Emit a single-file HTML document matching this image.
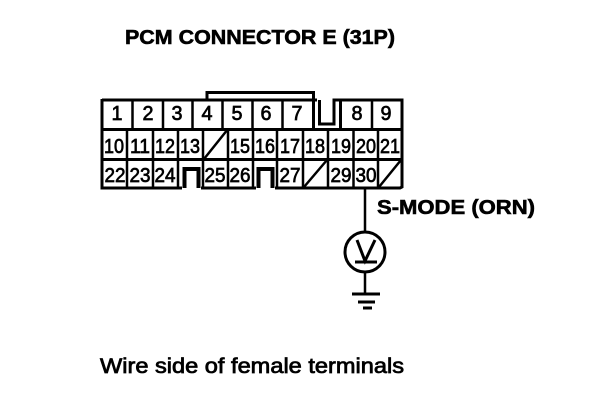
<!DOCTYPE html>
<html><head><meta charset="utf-8"><style>
html,body{margin:0;padding:0;background:#fff}
svg{display:block}
text{font-family:"Liberation Sans",sans-serif;fill:#000}
.n{font-size:20px;text-anchor:middle;stroke:#000;stroke-width:.7}
.b{font-weight:bold;font-size:20px;stroke:#000;stroke-width:.6}
</style></head><body>
<svg width="608" height="408" viewBox="0 0 608 408" xmlns="http://www.w3.org/2000/svg">
<text class="b" x="125" y="44" textLength="270" lengthAdjust="spacingAndGlyphs">PCM CONNECTOR E (31P)</text>
<text class="b" x="377" y="214" textLength="158" lengthAdjust="spacingAndGlyphs">S-MODE (ORN)</text>
<text x="100" y="373" font-size="21" stroke="#000" stroke-width=".75" textLength="304" lengthAdjust="spacingAndGlyphs">Wire side of female terminals</text>
<g fill="none" stroke="#000" stroke-width="3">
<path d="M207 100V92.500H313.500V129"/>
<path d="M102 100H317M102 99V188H182M201 188H256M275 188H400L402 187V100H334V124H319.500V100" stroke-linejoin="miter"/>
<path d="M340.500 100V129M101 129.500H402M101 159.500H401"/>
<path d="M184.500 188V169H198.500V188M258.500 188V169H272.500V188" stroke-width="4"/>
</g>
<g fill="none" stroke="#000" stroke-width="2.500">
<path d="M132.500 100V129M163 100V129M192.500 100V129M222.500 100V129M252.500 100V129M282.500 100V129M372 100V129"/>
<path d="M127 129V188M153 129V188M178 129V188M203 129V188M228 129V188M253 129V188M277 129V188M303 129V188M328 129V188M353.500 129V188M378 129V188"/>
<path d="M204 159L228 129M304 187L327 160M379 187L401 160"/>
</g>
<g>
<text class="n" x="117" y="120" textLength="11" lengthAdjust="spacingAndGlyphs">1</text><text class="n" x="148" y="120" textLength="11" lengthAdjust="spacingAndGlyphs">2</text><text class="n" x="177" y="120" textLength="11" lengthAdjust="spacingAndGlyphs">3</text><text class="n" x="207" y="120" textLength="11" lengthAdjust="spacingAndGlyphs">4</text><text class="n" x="237" y="120" textLength="11" lengthAdjust="spacingAndGlyphs">5</text><text class="n" x="266" y="120" textLength="11" lengthAdjust="spacingAndGlyphs">6</text><text class="n" x="297" y="120" textLength="11" lengthAdjust="spacingAndGlyphs">7</text><text class="n" x="357" y="120" textLength="11" lengthAdjust="spacingAndGlyphs">8</text><text class="n" x="386" y="120" textLength="11" lengthAdjust="spacingAndGlyphs">9</text>
<text class="n" x="114" y="153" textLength="20" lengthAdjust="spacingAndGlyphs">10</text><text class="n" x="140" y="153" textLength="20" lengthAdjust="spacingAndGlyphs">11</text><text class="n" x="165" y="153" textLength="20" lengthAdjust="spacingAndGlyphs">12</text><text class="n" x="190" y="153" textLength="20" lengthAdjust="spacingAndGlyphs">13</text><text class="n" x="240" y="153" textLength="20" lengthAdjust="spacingAndGlyphs">15</text><text class="n" x="265" y="153" textLength="20" lengthAdjust="spacingAndGlyphs">16</text><text class="n" x="290" y="153" textLength="20" lengthAdjust="spacingAndGlyphs">17</text><text class="n" x="315" y="153" textLength="20" lengthAdjust="spacingAndGlyphs">18</text><text class="n" x="341" y="153" textLength="20" lengthAdjust="spacingAndGlyphs">19</text><text class="n" x="366" y="153" textLength="20" lengthAdjust="spacingAndGlyphs">20</text><text class="n" x="390" y="153" textLength="20" lengthAdjust="spacingAndGlyphs">21</text>
<text class="n" x="115" y="182" textLength="21" lengthAdjust="spacingAndGlyphs">22</text><text class="n" x="140" y="182" textLength="21" lengthAdjust="spacingAndGlyphs">23</text><text class="n" x="165" y="182" textLength="21" lengthAdjust="spacingAndGlyphs">24</text><text class="n" x="215" y="182" textLength="21" lengthAdjust="spacingAndGlyphs">25</text><text class="n" x="240" y="182" textLength="21" lengthAdjust="spacingAndGlyphs">26</text><text class="n" x="290" y="182" textLength="21" lengthAdjust="spacingAndGlyphs">27</text><text class="n" x="341" y="182" textLength="21" lengthAdjust="spacingAndGlyphs">29</text><text class="n" x="366" y="182" textLength="21" lengthAdjust="spacingAndGlyphs">30</text>
</g>
<g fill="none" stroke="#000" stroke-width="2.500">
<path d="M365 188V232M365 272V294"/>
<circle cx="365" cy="252" r="20" stroke-width="3"/>
<path d="M357 240L365 261L375 240" stroke-width="3"/>
<path d="M355 262H377" stroke-width="3"/>
<path d="M352 294H380M358 302H375M363 308H372" stroke-width="3"/>
</g>
</svg>
</body></html>
